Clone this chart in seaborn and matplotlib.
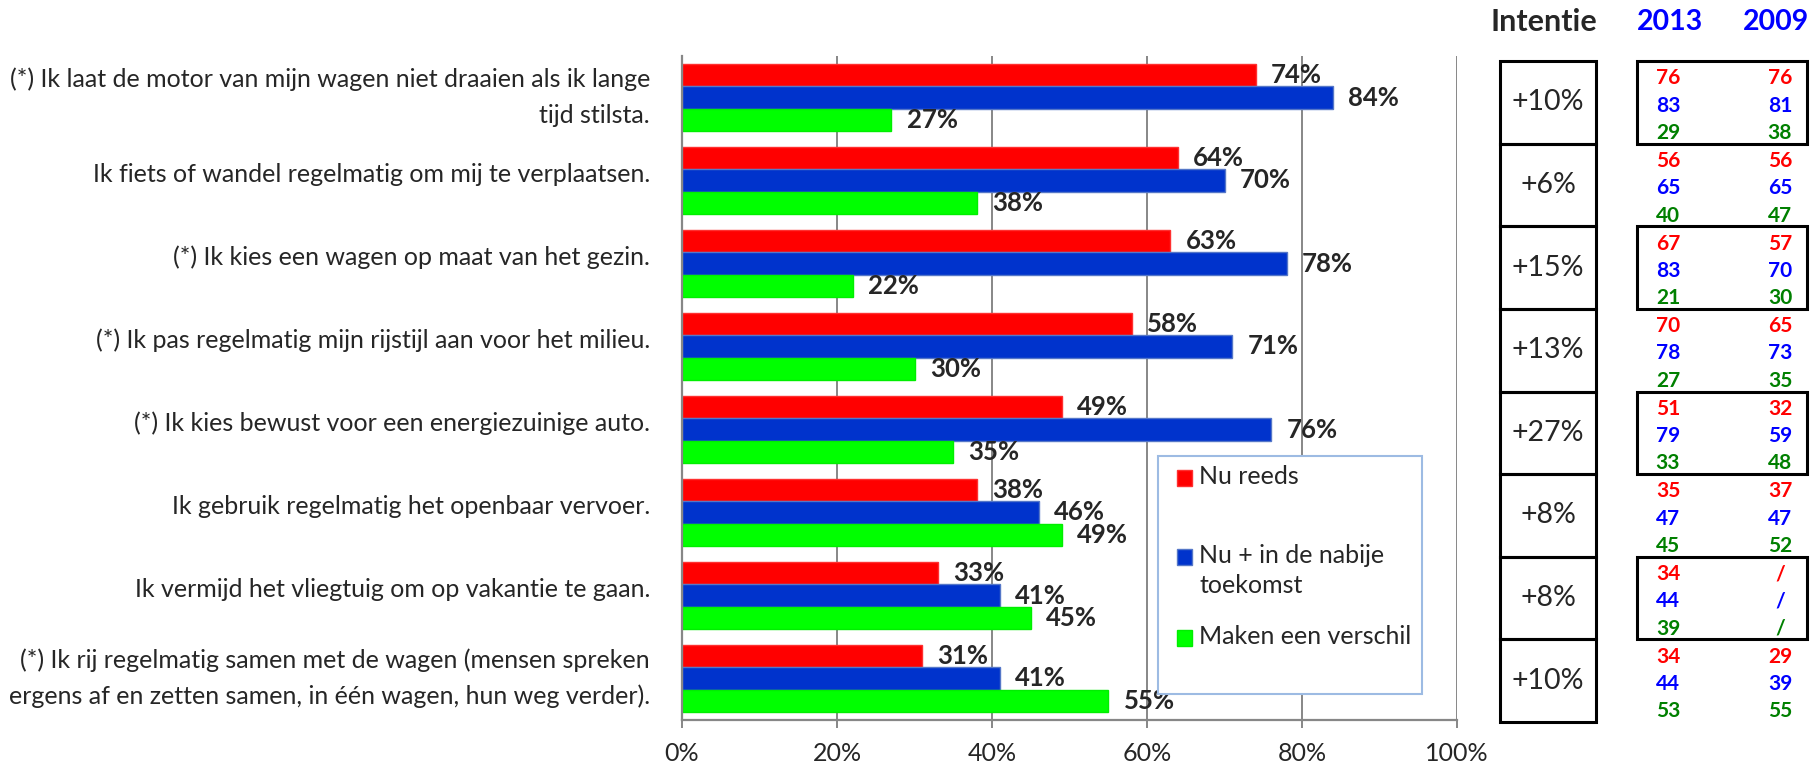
import matplotlib
matplotlib.use("Agg")
import matplotlib.pyplot as plt
import matplotlib.patches as mpatches
import matplotlib.transforms as mtrans
import seaborn as sns
import pandas as pd

# gegevens uit de grafiek
stellingen = [
    "(*) Ik laat de motor van mijn wagen niet draaien als ik lange\ntijd stilsta.",
    "Ik fiets of wandel regelmatig om mij te verplaatsen.",
    "(*) Ik kies een wagen op maat van het gezin.",
    "(*) Ik pas regelmatig mijn rijstijl aan voor het milieu.",
    "(*) Ik kies bewust voor een energiezuinige auto.",
    "Ik gebruik regelmatig het openbaar vervoer.",
    "Ik vermijd het vliegtuig om op vakantie te gaan.",
    "(*) Ik rij regelmatig samen met de wagen (mensen spreken\nergens af en zetten samen, in één wagen, hun weg verder).",
]
reeksen = ["Nu reeds", "Nu + in de nabije\ntoekomst", "Maken een verschil"]
nu_reeds = [74, 64, 63, 58, 49, 38, 33, 31]
nabije_toekomst = [84, 70, 78, 71, 76, 46, 41, 41]
verschil = [27, 38, 22, 30, 35, 49, 45, 55]

intentie = ["+10%", "+6%", "+15%", "+13%", "+27%", "+8%", "+8%", "+10%"]

j2013_nu = [76, 56, 67, 70, 51, 35, 34, 34]
j2013_toek = [83, 65, 83, 78, 79, 47, 44, 44]
j2013_versch = [29, 40, 21, 27, 33, 45, 39, 53]
j2009_nu = [76, 56, 57, 65, 32, 37, None, 29]
j2009_toek = [81, 65, 70, 73, 59, 47, None, 39]
j2009_versch = [38, 47, 30, 35, 48, 52, None, 55]

kleuren = ["#FF0000", "#0033CC", "#00FF00"]
randen = ["#FF3030", "#5577C8", "#00EE00"]
tabel_kleuren = ["#FF0000", "#0000FF", "#008000"]

df = pd.DataFrame({
    "stelling": stellingen * 3,
    "reeks": [reeksen[0]] * 8 + [reeksen[1]] * 8 + [reeksen[2]] * 8,
    "waarde": nu_reeds + nabije_toekomst + verschil,
})

sns.set_style("white")
plt.rcParams["font.family"] = ["Lato", "DejaVu Sans"]

W, H = 1816, 768
fig = plt.figure(figsize=(W / 100, H / 100), dpi=100)

def fx(x):
    return x / W

def fy(y):
    return 1 - y / H

ax = fig.add_axes([fx(682), fy(720), fx(1457) - fx(682), fy(56) - fy(720)])
sns.barplot(data=df, y="stelling", x="waarde", hue="reeks", hue_order=reeksen,
            palette=kleuren, saturation=1, width=0.8, orient="h", ax=ax, legend=False)

for cont, rand in zip(ax.containers, randen):
    for bar in cont:
        bar.set_edgecolor(rand)
        bar.set_linewidth(1)
    ax.bar_label(cont, labels=[f"{v:.0f}%" for v in cont.datavalues],
                 padding=11, fontsize=18.5, fontweight="bold")

ax.set_xlim(0, 100)
ax.set_ylim(7.5, -0.5)
ax.set_xticks([0, 20, 40, 60, 80, 100])
ax.set_xticklabels(["0%", "20%", "40%", "60%", "80%", "100%"])
ax.set_xlabel("")
ax.set_ylabel("")
ax.set_axisbelow(True)
ax.grid(axis="x", color="#878787", lw=1.4)
ax.grid(axis="y", visible=False)
sns.despine(ax=ax, top=True, right=True)
for s in ["left", "bottom"]:
    ax.spines[s].set_color("#878787")
    ax.spines[s].set_linewidth(1.6)
ax.tick_params(axis="x", direction="out", length=6, width=1.4, color="#878787",
               labelsize=18, pad=10, bottom=True)
ax.tick_params(axis="y", length=0, labelsize=18, pad=23)

omhoog = mtrans.ScaledTranslation(0, 6 / 72, fig.dpi_scale_trans)
for lbl in ax.get_yticklabels():
    lbl.set_linespacing(1.65)
    lbl.set_transform(lbl.get_transform() + omhoog)

# legenda
fig.add_artist(mpatches.Rectangle((fx(1158), fy(694)), fx(1422) - fx(1158), fy(456) - fy(694),
                                  transform=fig.transFigure, facecolor="white",
                                  edgecolor="#9DBBE3", lw=1.5, zorder=3))
leg_y = [478, 557, 638]
for naam, kleur, rand, yy in zip(reeksen, kleuren, randen, leg_y):
    fig.add_artist(mpatches.Rectangle((fx(1177), fy(yy + 8)), fx(15), 16 / H,
                                      transform=fig.transFigure, facecolor=kleur,
                                      edgecolor=rand, lw=1, zorder=4))
    fig.text(fx(1199), fy(yy - 13), naam, fontsize=18, va="top", ha="left",
             linespacing=1.35, zorder=4)

# tabel rechts
axt = fig.add_axes([fx(1490), fy(722), fx(1816) - fx(1490), fy(61) - fy(722)])
axt.set_xlim(1490, 1816)
axt.set_ylim(8, 0)
axt.axis("off")

for i, tekst in enumerate(intentie):
    axt.add_patch(mpatches.Rectangle((1500, i), 96, 1, fill=False, ec="black", lw=2.2, clip_on=False))
    axt.text(1548, i + 0.5, tekst, ha="center", va="center", fontsize=20.5)

for i in (0, 2, 4, 6):
    axt.add_patch(mpatches.Rectangle((1637, i), 170, 1, fill=False, ec="black", lw=2.2, clip_on=False))

rijen = [0.21, 0.54, 0.87]
kol2013 = [j2013_nu, j2013_toek, j2013_versch]
kol2009 = [j2009_nu, j2009_toek, j2009_versch]
for r, frac in enumerate(rijen):
    for i in range(8):
        axt.text(1668, i + frac, str(kol2013[r][i]), ha="center", va="center",
                 fontsize=15, fontweight="bold", color=tabel_kleuren[r])
        w = kol2009[r][i]
        axt.text(1780, i + frac, "/" if w is None else str(w), ha="center", va="center",
                 fontsize=15, fontweight="bold", color=tabel_kleuren[r])

fig.text(fx(1544), fy(22), "Intentie", ha="center", va="center", fontsize=22, fontweight="bold")
fig.text(fx(1670), fy(22), "2013", ha="center", va="center", fontsize=20.5, fontweight="bold", color="#0000FF")
fig.text(fx(1776), fy(22), "2009", ha="center", va="center", fontsize=20.5, fontweight="bold", color="#0000FF")

fig.savefig("out.png", dpi=100)
